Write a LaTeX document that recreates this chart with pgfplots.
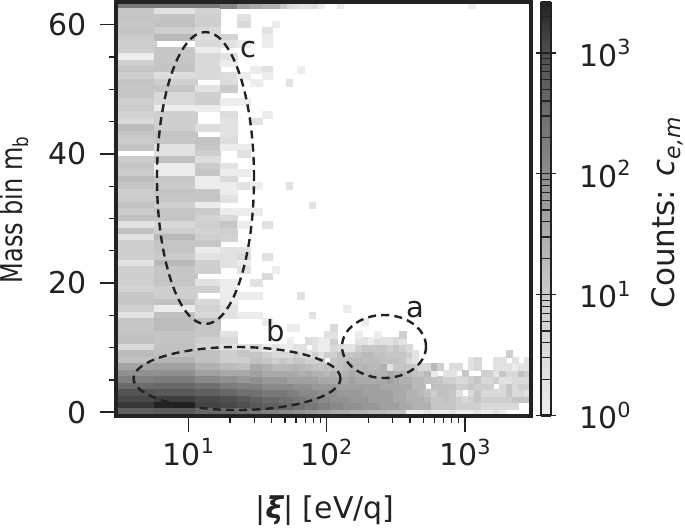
\documentclass[border=0pt]{standalone}
\usepackage{fontspec}
\setmainfont{DejaVu Sans}
\usepackage{pgfplots}
\usepackage{pgfplotstable}
\usepackage{graphicx}
\pgfplotsset{compat=1.18}

\definecolor{ink}{HTML}{222222}
\newcommand{\tenp}[1]{10\raisebox{.39em}{\fontsize{10.4}{11}\selectfont #1}}
\newcommand{\bigfont}{\fontsize{15}{18}\selectfont}

% left, wide bins: counts per mass bin
\pgfplotstableread{
m c1 c2 c3 c4 c5
63 215 215 215 130 50
62 12 2 6 0 0
61 13 13 8 0 2
60 12 15 8 0 4
59 13 8 4 0 0
58 10 20 3 6 0
57 8 0 4 2 1
56 8 12 1 0 0
55 1 12 4 2 0
54 8 12 4 1 0
53 12 13 4 0 0
52 8 3 4 3 1
51 13 8 0 3 0
50 12 12 2 10 0
49 12 4 8 0 0
48 8 4 8 1 1
47 10 1 1 0 0
46 6 8 0 3 0
45 4 8 0 2 0
44 18 8 3 2 0
43 12 13 0 2 0
42 10 12 13 3 0
41 13 2 12 1 1
40 0 2 8 0 2
39 10 15 3 0 0
38 12 1 10 2 0
37 10 1 12 1 1
36 18 12 1 4 0
35 12 10 1 1 2
34 8 13 12 1 0
33 10 12 12 2 0
32 15 8 1 0 0
31 10 12 10 1 1
30 15 13 6 4 0
29 2 4 8 12 1
28 15 8 6 8 0
27 2 20 8 6 0
26 8 12 12 0 0
25 8 12 1 2 2
24 8 10 2 2 4
23 2 20 8 2 1
22 8 12 8 0 2
21 8 12 0 0 0
20 8 12 2 1 0
19 6 8 8 1 0
18 12 8 0 1 1
17 12 15 4 1 0
16 8 1 6 2 0
15 2 15 4 2 1
14 12 18 15 0 0
13 12 18 12 0 0
12 13 13 12 2 0
11 15 13 8 4 0
10 4 15 6 2 2
9 18 15 15 8 12
8 15 24 15 8 8
7 42 49 27 18 15
6 87 87 49 36 36
5 158 185 116 87 65
4 350 400 295 185 158
3 850 740 540 400 295
2 1180 1450 1130 1000 740
1 1660 2630 1300 1180 1000
0 540 690 400 350 295
}\lefttab

% narrower bins above the lower band
\pgfplotstableread{
m c6 c7 c8
63 36 27 27
60 0 0 1
59 0 2 0
58 0 1 0
57 0 1 0
53 1 2 0
52 0 1 0
51 1 0 0
46 0 1 0
45 2 0 0
35 1 0 0
31 1 0 0
29 0 2 0
24 0 2 0
22 0 0 1
21 0 4 0
20 2 0 0
18 1 0 0
15 1 0 0
14 0 1 0
}\uppertab

% lone cells
\pgfplotstableread{
x m c
48.7 63 12
54.7 63 4
60.7 63 3
67.3 63 2
74.7 63 2
82.9 63 3
92.0 63 1
125.8 63 1
1120 63 1
65.5 53 1
65.5 18 2
54 51 2
54 35 2
78.7 32 2
78.7 15 2
190.8 14 1
140 16 1
}\specktab

% lower band, narrow bins
\pgfplotstableread{
m c6 c7 c8 c9 k1 k2 k3 k4 k5 k6 k7 k8 k9 k10 k11 k12 k13 k14 k15 k16 k17 k18 k19 k20 k21 k22 k23 k24 k25 k26 k27 k28 k29 k30 k31 k32 k33 k34 k35 k36 k37 k38 k39
0 215 158 158 116 116 87 87 65 65 49 49 36 36 36 27 27 27 20 20 20 15 15 15 1 1 1 2 1 1 1 2 1 1 1 2 1 1 2 1 0 0 0 0
1 740 540 540 400 400 295 295 215 215 158 158 116 116 87 87 87 65 65 65 49 49 49 36 36 27 27 27 12 12 12 12 8 8 8 8 4 4 4 4 4 4 0 0
2 540 400 400 295 295 215 215 158 158 116 116 87 87 87 65 65 65 49 49 49 49 36 36 27 27 27 20 12 12 15 12 8 4 8 12 8 8 8 8 8 12 12 12
3 295 215 215 215 158 158 116 116 116 87 87 87 65 65 65 65 49 49 49 49 49 36 36 27 27 20 15 8 15 15 12 2 0 4 12 4 4 4 4 12 4 4 2
4 158 116 116 116 116 87 87 87 65 65 65 65 49 49 49 49 49 49 49 36 36 36 36 36 20 20 0 15 15 15 15 8 8 12 8 8 8 0 4 12 4 8 8
5 87 65 65 65 49 49 49 49 49 36 36 36 36 36 49 36 36 36 36 36 49 36 27 27 20 20 15 13 12 8 8 4 4 8 12 4 4 8 2 2 4 4 4
6 49 36 36 36 36 36 27 36 27 27 20 27 20 27 36 27 27 27 27 27 36 27 27 20 15 12 20 1 0 2 2 0 12 0 0 8 8 2 12 4 4 15 8
7 36 27 20 20 20 24 20 18 15 12 15 15 15 20 24 20 24 20 20 27 2 12 12 12 10 4 4 20 8 0 3 3 0 2 4 0 0 2 2 2 1 2 2
8 15 12 8 12 8 12 12 8 8 12 0 12 15 15 20 20 18 18 18 15 15 15 12 4 2 0 0 0 0 0 0 0 0 2 4 0 0 2 2 0 2 0 2
9 12 8 4 4 4 8 4 2 8 2 8 8 15 12 12 15 20 20 15 15 12 12 12 8 2 0 0 0 0 0 0 0 0 0 0 0 0 0 0 8 0 0 0
10 4 1 2 1 1 2 2 0 2 1 1 4 3 2 2 8 12 12 12 12 8 12 8 4 0 0 0 0 0 0 0 0 0 0 0 0 0 0 0 0 0 0 0
11 0 0 0 0 1 0 0 3 2 1 1 8 0 0 0 2 2 1 3 2 2 4 2 0 0 0 0 0 0 0 0 0 0 0 0 0 0 0 0 0 0 0 0
12 0 0 0 0 0 0 0 0 0 0 2 2 0 0 0 1 0 0 1 0 0 0 8 0 0 0 0 0 0 0 0 0 0 0 0 0 0 0 0 0 0 0 0
13 0 0 0 0 1 1 0 0 0 0 0 4 0 0 0 0 0 0 0 0 0 0 0 0 0 0 0 0 0 0 0 0 0 0 0 0 0 0 0 0 0 0 0
}\righttab

\pgfplotsset{
  cells/.style={
    scatter, only marks, mark=square*, mark size=1.67pt,
    mark options={xscale=#1, line width=0pt},
    scatter/use mapped color={draw=mapped color, fill=mapped color},
  },
}
% one column of cells: table, column, x centre, width in px
\newcommand{\strip}[4]{%
  \addplot[cells={#4/6.46}, point meta={log10(max(\thisrow{#2},1))}] table[x expr=#3,
    y expr={\thisrow{#2}>0 ? \thisrow{m} : nan}] {#1};
}

\begin{document}
\begin{tikzpicture}
\useasboundingbox (0,0) rectangle (342.5pt,263.5pt);
\begin{axis}[
  at={(58pt,55.75pt)}, anchor=south west,
  scale only axis, width=207.5pt, height=206.75pt,
  xmode=log, xmin=3, xmax=3000, ymin=-0.5, ymax=63.5,
  axis line style={ink, line width=2pt},
  tick align=outside, xtick pos=bottom, ytick pos=left,
  major tick length=8pt, minor tick length=3.5pt,
  every tick/.style={ink, line width=0.8pt},
  minor tick style={ink, line width=0.6pt},
  xtick={10,100,1000}, xticklabels={\tenp{1},\tenp{2},\tenp{3}},
  ytick={0,20,40,60}, yticklabels={0,20,40,60},
  minor ytick={5,10,15,25,30,35,45,50,55},
  tick label style={font=\bigfont, text=ink},
  yticklabel style={xshift=-3pt},
  xlabel={|{\bfseries\itshape ξ}| [eV/q]},
  ylabel={\scalebox{0.8}[1]{Mass bin m\raisebox{-.2em}{\fontsize{10.4}{11}\selectfont b}}},
  label style={font=\bigfont, text=ink},
  xlabel style={at={(axis description cs:0.5036,-0.231)}, anchor=center},
  ylabel style={at={(axis description cs:-0.246,0.497)}, anchor=center},
  colormap={cref}{rgb255(0cm)=(236,236,236); rgb255(1cm)=(230,230,230); rgb255(2cm)=(224,224,224); rgb255(3cm)=(218,218,218); rgb255(4cm)=(212,212,212); rgb255(5cm)=(206,206,206); rgb255(6cm)=(195,195,195); rgb255(7cm)=(183,183,183); rgb255(8cm)=(171,171,171); rgb255(9cm)=(159,159,159); rgb255(10cm)=(147,147,147); rgb255(11cm)=(135,135,135); rgb255(12cm)=(123,123,123); rgb255(13cm)=(112,112,112); rgb255(14cm)=(100,100,100); rgb255(15cm)=(89,89,89); rgb255(16cm)=(76,76,76); rgb255(17cm)=(55,55,55); rgb255(18cm)=(34,34,34)},
  point meta min=0, point meta max=3.42,
  colorbar sampled,
  colorbar style={
    samples=172,
    at={(parent axis.south east)}, anchor=south west, xshift=-3.5pt,
    scale only axis, width=5pt, height=206.75pt,
    axis line style={ink, line width=1.3pt},
    ytick={0,1,2,3}, yticklabels={\tenp{0},\tenp{1},\tenp{2},\tenp{3}},
    minor ytick={0.301,0.477,0.602,0.699,0.778,0.845,0.903,0.954,1.301,1.477,1.602,1.699,1.778,1.845,1.903,1.954,2.301,2.477,2.602,2.699,2.778,2.845,2.903,2.954,3.301},
    major tick length=7.5pt, minor tick length=3.5pt,
    yticklabel style={font=\bigfont, text=ink, xshift=10.5pt},
    ylabel={Counts: {\itshape c}\raisebox{-.2em}{\fontsize{11}{12}\selectfont\itshape e,m}},
    ylabel style={font=\fontsize{15.5}{18}\selectfont, text=ink, at={(axis description cs:12.6,0.49)}, anchor=center, rotate=0},
  },
]
\strip{\lefttab}{c1}{4.176}{39}
\strip{\lefttab}{c2}{8.12}{41}
\strip{\lefttab}{c3}{13.95}{24}
\strip{\lefttab}{c4}{19.62}{17}
\strip{\lefttab}{c5}{25.18}{13}
\strip{\uppertab}{c6}{31.0}{12}
\strip{\uppertab}{c7}{37.2}{10}
\strip{\uppertab}{c8}{43.0}{7.6}
\strip{\righttab}{c6}{31.0}{12}
\strip{\righttab}{c7}{37.2}{10}
\strip{\righttab}{c8}{43.0}{7.6}
\strip{\righttab}{c9}{48.7}{7.4}
\strip{\righttab}{k1}{54.7}{6.3}
\strip{\righttab}{k2}{60.7}{6.3}
\strip{\righttab}{k3}{67.3}{6.3}
\strip{\righttab}{k4}{74.7}{6.3}
\strip{\righttab}{k5}{82.9}{6.3}
\strip{\righttab}{k6}{92.0}{6.3}
\strip{\righttab}{k7}{102.1}{6.3}
\strip{\righttab}{k8}{113.3}{6.3}
\strip{\righttab}{k9}{125.8}{6.3}
\strip{\righttab}{k10}{139.6}{6.3}
\strip{\righttab}{k11}{154.9}{6.3}
\strip{\righttab}{k12}{171.9}{6.3}
\strip{\righttab}{k13}{190.8}{6.3}
\strip{\righttab}{k14}{211.7}{6.3}
\strip{\righttab}{k15}{234.9}{6.3}
\strip{\righttab}{k16}{260.8}{6.3}
\strip{\righttab}{k17}{289.4}{6.3}
\strip{\righttab}{k18}{321.1}{6.3}
\strip{\righttab}{k19}{356.2}{6.3}
\strip{\righttab}{k20}{395.5}{6.3}
\strip{\righttab}{k21}{438.9}{6.3}
\strip{\righttab}{k22}{487.0}{6.3}
\strip{\righttab}{k23}{540.5}{6.3}
\strip{\righttab}{k24}{600.0}{6.3}
\strip{\righttab}{k25}{665.7}{6.3}
\strip{\righttab}{k26}{738.9}{6.3}
\strip{\righttab}{k27}{819.7}{6.3}
\strip{\righttab}{k28}{909.7}{6.3}
\strip{\righttab}{k29}{1009}{6.3}
\strip{\righttab}{k30}{1120}{6.3}
\strip{\righttab}{k31}{1243}{6.3}
\strip{\righttab}{k32}{1380}{6.3}
\strip{\righttab}{k33}{1532}{6.3}
\strip{\righttab}{k34}{1700}{6.3}
\strip{\righttab}{k35}{1886}{6.3}
\strip{\righttab}{k36}{2094}{6.3}
\strip{\righttab}{k37}{2323}{6.3}
\strip{\righttab}{k38}{2578}{6.3}
\strip{\righttab}{k39}{2860}{6.3}
\addplot[cells={6.3/6.46}, point meta={log10(\thisrow{c})}] table[x=x, y=m] {\specktab};
\end{axis}

% frame and annotations go over the cells
\draw[ink, line width=2pt] (58pt,55.75pt) rectangle (265.5pt,262.5pt);
\draw[ink, line width=1.2pt, dash pattern=on 4pt off 2.6pt] (102.75pt,174.5pt) ellipse [x radius=24.25pt, y radius=73pt];
\draw[ink, line width=1.2pt, dash pattern=on 4pt off 2.6pt] (118.5pt,74.25pt) ellipse [x radius=51.75pt, y radius=15.75pt];
\draw[ink, line width=1.2pt, dash pattern=on 4pt off 2.6pt] (192pt,90.25pt) ellipse [x radius=21pt, y radius=15.75pt];
\node[font=\fontsize{14.5}{17}\selectfont, text=ink, inner sep=0pt] at (124.25pt,238.5pt) {c};
\node[font=\fontsize{14.5}{17}\selectfont, text=ink, inner sep=0pt] at (138pt,98pt) {b};
\node[font=\fontsize{14.5}{17}\selectfont, text=ink, inner sep=0pt] at (207.75pt,108.75pt) {a};
\end{tikzpicture}
\end{document}
